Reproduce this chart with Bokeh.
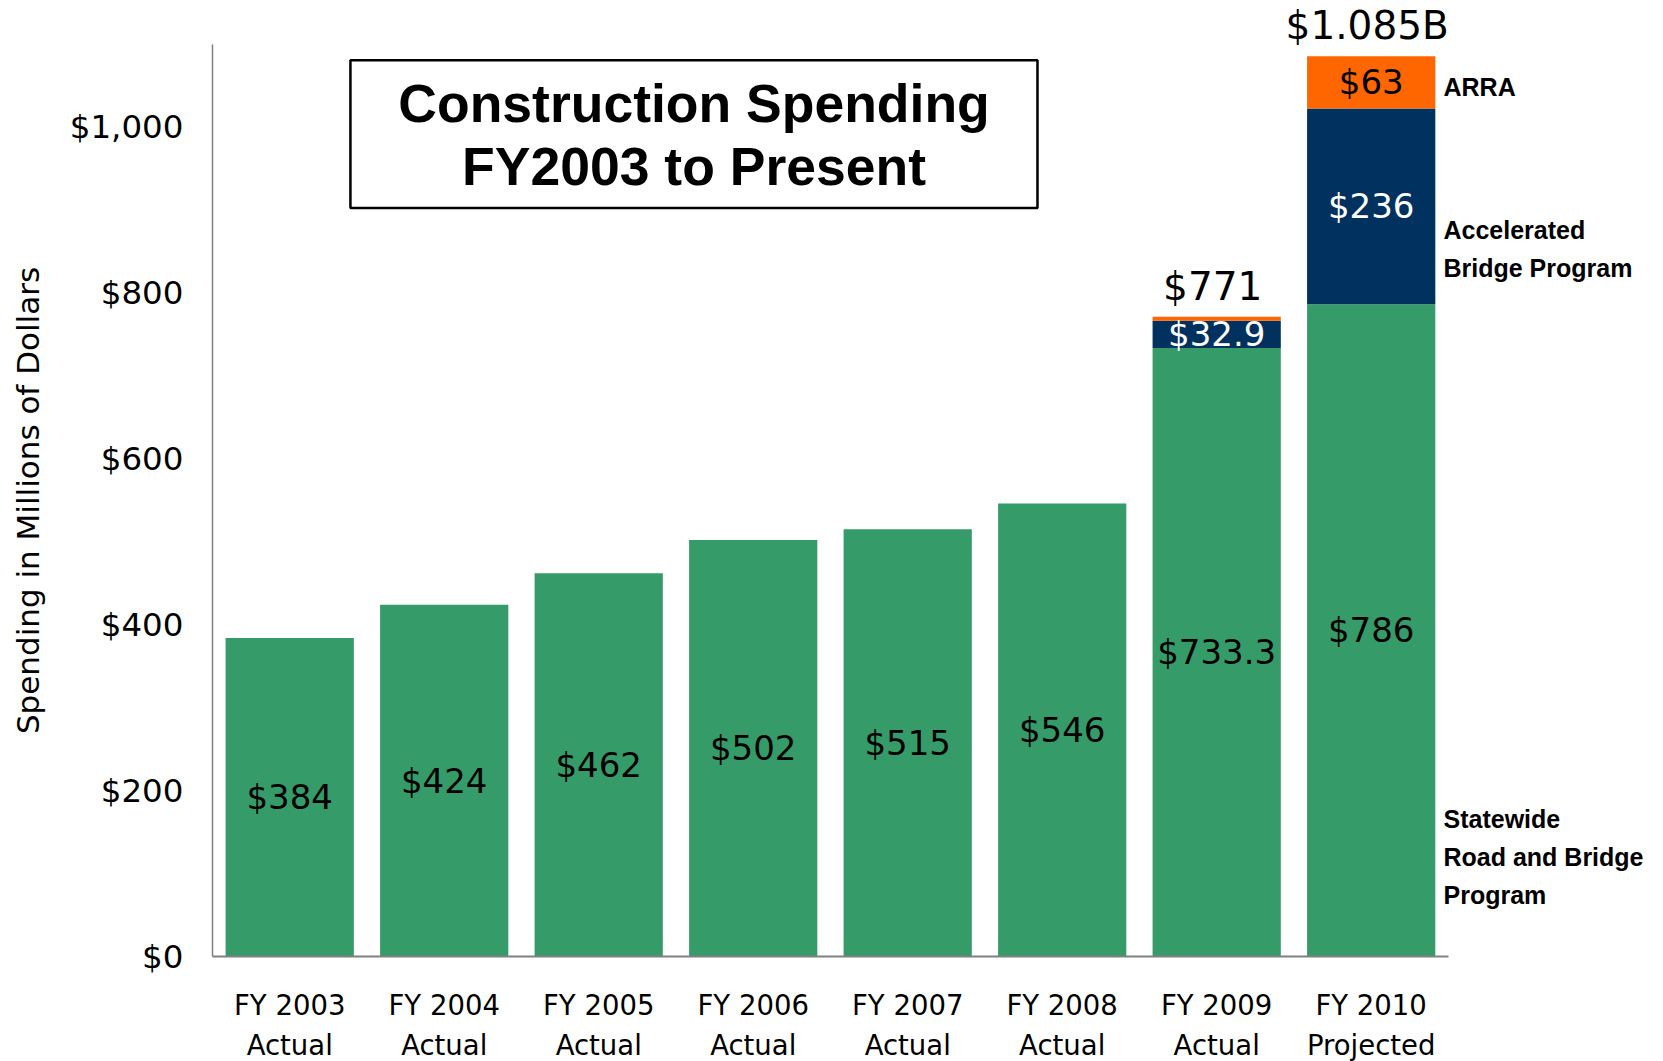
from bokeh.plotting import figure
from bokeh.models import FixedTicker, Range1d, Label, BoxAnnotation, ColumnDataSource
from bokeh.core.properties import value
from bokeh.embed import file_html
from bokeh.resources import INLINE

# ---- data ----
categories = ["FY 2003", "FY 2004", "FY 2005", "FY 2006", "FY 2007", "FY 2008", "FY 2009", "FY 2010"]
status = ["Actual", "Actual", "Actual", "Actual", "Actual", "Actual", "Actual", "Projected"]
statewide = [384, 424, 462, 502, 515, 546, 733.3, 786]
accelerated = [0, 0, 0, 0, 0, 0, 32.9, 236]
arra = [0, 0, 0, 0, 0, 0, 4.8, 63]
statewide_labels = ["$384", "$424", "$462", "$502", "$515", "$546", "$733.3", "$786"]
accelerated_labels = ["", "", "", "", "", "", "$32.9", "$236"]
arra_labels = ["", "", "", "", "", "", "", "$63"]
total_labels = ["", "", "", "", "", "", "$771", "$1.085B"]
y_ticks = [0, 200, 400, 600, 800, 1000]
y_tick_labels = ["$0", "$200", "$400", "$600", "$800", "$1,000"]
series_lines = [["ARRA"], ["Accelerated", "Bridge Program"], ["Statewide", "Road and Bridge", "Program"]]
series_line_y = [[1048], [876, 830], [166, 120.5, 74.7]]
title_lines = ["Construction Spending", "FY2003 to Present"]

GREEN = "#359b69"
NAVY = "#01325f"
ORANGE = "#ff6600"

idx = list(range(len(categories)))
acc_bottom = statewide
acc_top = [s + a for s, a in zip(statewide, accelerated)]
arra_top = [t + r for t, r in zip(acc_top, arra)]

Y_TOP = 1099  # top of value axis
p = figure(width=1663, height=1061, output_backend="svg", toolbar_location=None,
           x_range=Range1d(-1.872, 8.892), y_range=Range1d(-126.5, 1152.1),
           min_border_left=0, min_border_right=0, min_border_top=0, min_border_bottom=0)
p.outline_line_color = None
p.xgrid.visible = False
p.ygrid.visible = False
p.background_fill_color = "white"

src = ColumnDataSource(dict(
    x=idx, sw=statewide, acc_b=acc_bottom, acc_t=acc_top, arra_t=arra_top,
    sw_mid=[s / 2 for s in statewide],
    acc_mid=[b + a / 2 for b, a in zip(acc_bottom, accelerated)],
    arra_mid=[t + r / 2 for t, r in zip(acc_top, arra)],
    sw_lab=statewide_labels, acc_lab=accelerated_labels, arra_lab=arra_labels,
    tot_y=[t + 37 for t in arra_top], tot_lab=total_labels,
    row2=status, row2_y=[-107] * len(idx),
))

W = 0.83
p.vbar(x="x", width=W, bottom=0, top="sw", fill_color=GREEN, line_color=None, source=src)
p.vbar(x="x", width=W, bottom="acc_b", top="acc_t", fill_color=NAVY, line_color=None, source=src)
p.vbar(x="x", width=W, bottom="acc_t", top="arra_t", fill_color=ORANGE, line_color=None, source=src)

p.text(x="x", y="sw_mid", text="sw_lab", source=src, text_align="center", text_baseline="middle",
       text_font=value("DejaVu Sans"), text_font_size="34px", text_color="black")
p.text(x="x", y="acc_mid", text="acc_lab", source=src, text_align="center", text_baseline="middle",
       text_font=value("DejaVu Sans"), text_font_size="34px", text_color="white")
p.text(x="x", y="arra_mid", text="arra_lab", source=src, text_align="center", text_baseline="middle",
       text_font=value("DejaVu Sans"), text_font_size="34px", text_color="black")

p.text(x="x", y="tot_y", text="tot_lab", source=src, text_align="center", text_baseline="middle",
       x_offset=-4, text_font=value("DejaVu Sans"), text_font_size="39px", text_color="black")

# second row of category labels
p.text(x="x", y="row2_y", text="row2", source=src, text_align="center", text_baseline="middle",
       text_font=value("DejaVu Sans"), text_font_size="27.5px", text_color="black")

# series labels on the right
for lines, ys in zip(series_lines, series_line_y):
    for t, yy in zip(lines, ys):
        p.add_layout(Label(x=7.468, y=yy, text=t, text_align="left", text_baseline="middle",
                           text_font="Liberation Sans", text_font_style="bold",
                           text_font_size="25px", text_color="black"))

# title box
p.add_layout(BoxAnnotation(left=0.393, right=4.84, bottom=902, top=1080,
                           fill_alpha=0, line_color="black", line_alpha=1.0, line_width=2.5))
for t, yy in zip(title_lines, [1028, 952]):
    p.add_layout(Label(x=2.617, y=yy, text=t, text_align="center", text_baseline="middle",
                       text_font="Liberation Sans", text_font_style="bold",
                       text_font_size="53.5px", text_color="black"))

# axes
p.yaxis.fixed_location = -0.5
p.yaxis.bounds = (0, Y_TOP)
p.yaxis.ticker = FixedTicker(ticks=y_ticks)
p.yaxis.major_label_overrides = {t: l for t, l in zip(y_ticks, y_tick_labels)}
p.yaxis.major_label_text_font = "DejaVu Sans"
p.yaxis.major_label_text_font_size = "32.5px"
p.yaxis.major_label_text_color = "black"
p.yaxis.major_label_standoff = 29
p.yaxis.major_tick_line_color = None
p.yaxis.minor_tick_line_color = None
p.yaxis.major_tick_out = 0
p.yaxis.major_tick_in = 0
p.yaxis.axis_line_color = "#808080"
p.yaxis.axis_line_width = 1.5
p.yaxis.axis_label = "Spending in Millions of Dollars"
p.yaxis.axis_label_text_font = "DejaVu Sans"
p.yaxis.axis_label_text_font_size = "31px"
p.yaxis.axis_label_text_font_style = "normal"
p.yaxis.axis_label_text_color = "black"
p.yaxis.axis_label_standoff = 21

p.xaxis.fixed_location = 0
p.xaxis.bounds = (-0.5, 7.5)
p.xaxis.ticker = FixedTicker(ticks=idx)
p.xaxis.major_label_overrides = {i: c for i, c in zip(idx, categories)}
p.xaxis.major_label_text_font = "DejaVu Sans"
p.xaxis.major_label_text_font_size = "27.5px"
p.xaxis.major_label_text_color = "black"
p.xaxis.major_label_standoff = 32
p.xaxis.major_tick_line_color = None
p.xaxis.minor_tick_line_color = None
p.xaxis.major_tick_out = 0
p.xaxis.major_tick_in = 0
p.xaxis.axis_line_color = "#808080"
p.xaxis.axis_line_width = 2

open("out.html", "w").write(file_html(p, INLINE))
